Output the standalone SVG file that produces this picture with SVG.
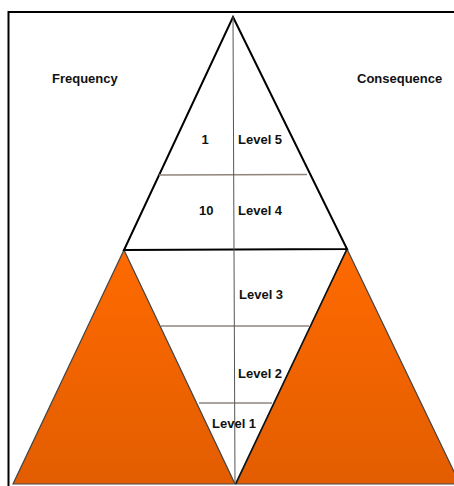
<svg xmlns="http://www.w3.org/2000/svg" width="454" height="486" viewBox="0 0 454 486">
<style>
.t{font-family:"Liberation Sans",Arial,sans-serif;font-weight:bold;font-size:13px;fill:#111}
.div{stroke:#8f857c;stroke-width:1.5}
.orange{fill:url(#og);stroke:#444;stroke-width:1.2;stroke-linejoin:miter}
</style>
<defs>
<linearGradient id="og" x1="0" y1="0" x2="0" y2="1">
<stop offset="0" stop-color="#ff6a00"/>
<stop offset="1" stop-color="#e25d00"/>
</linearGradient>
</defs>
<rect width="454" height="486" fill="#fff"/>
<g id="frame">
<path d="M8.5,486 V12 H454" fill="none" stroke="#000" stroke-width="2"/>
</g>
<g id="left-triangle">
<polygon class="orange" points="124,250 235,484 13,484"/>
</g>
<g id="right-triangle">
<polygon class="orange" points="347,249 460,484 236,484"/>
</g>
<g id="pyramid">
<polygon points="233,17 347,249 124,250" fill="none" stroke="#000" stroke-width="2" stroke-linejoin="miter"/>
<line x1="347" y1="249" x2="235.5" y2="484" stroke="#111" stroke-width="1.6"/>
</g>
<g id="connectors">
<line class="div" x1="159" y1="175" x2="307" y2="174.5"/>
<line class="div" x1="161" y1="326" x2="309" y2="326"/>
<line class="div" x1="199" y1="403" x2="272" y2="403"/>
<line x1="233" y1="17" x2="235" y2="484" stroke="#555" stroke-width="1"/>
</g>
<g id="labels">
<text class="t" x="52" y="83">Frequency</text>
<text class="t" x="357" y="83">Consequence</text>
<text class="t" x="201.5" y="144">1</text>
<text class="t" x="238" y="144">Level 5</text>
<text class="t" x="199" y="215">10</text>
<text class="t" x="238" y="215">Level 4</text>
<text class="t" x="239" y="299">Level 3</text>
<text class="t" x="238" y="378">Level 2</text>
<text class="t" x="212" y="428">Level 1</text>
</g>
</svg>
